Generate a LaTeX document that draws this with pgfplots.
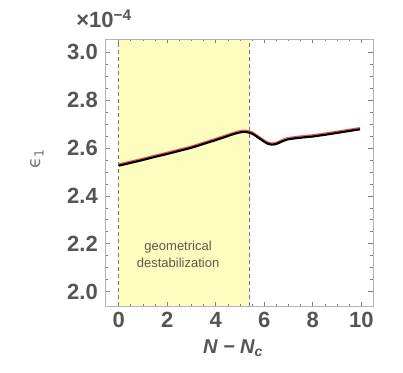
\documentclass[border=0pt]{standalone}
\usepackage{pgfplots}
\pgfplotsset{compat=1.18}
\usepackage{fontspec}
\setmainfont{Liberation Sans}
\newfontfamily\dejavu{DejaVu Sans}

\definecolor{lblgray}{RGB}{85,85,85}
\definecolor{framegray}{RGB}{180,180,180}
\definecolor{shade}{RGB}{255,252,192}
\definecolor{dashgray}{RGB}{120,120,120}
\definecolor{curvered}{RGB}{240,90,80}

\pgfplotstableread{
x y
0.0 2.526
0.5 2.538
1.0 2.550
1.5 2.563
2.0 2.575
2.5 2.588
3.0 2.601
3.5 2.617
4.0 2.633
4.5 2.650
4.8 2.660
5.1 2.667
5.3 2.666
5.5 2.660
5.7 2.647
5.9 2.633
6.1 2.620
6.3 2.614
6.5 2.617
6.7 2.626
6.9 2.634
7.1 2.638
7.5 2.643
8.0 2.648
8.5 2.655
9.0 2.663
9.5 2.671
9.95 2.678
}\blackdata

\pgfplotstableread{
x y
0.0 2.533
0.5 2.545
1.0 2.557
1.5 2.570
2.0 2.582
2.5 2.595
3.0 2.608
3.5 2.624
4.0 2.640
4.5 2.657
4.8 2.667
5.1 2.674
5.3 2.673
5.5 2.667
5.7 2.654
5.9 2.640
6.1 2.627
6.3 2.621
6.5 2.624
6.7 2.633
6.9 2.641
7.1 2.645
7.5 2.650
8.0 2.655
8.5 2.662
9.0 2.670
9.5 2.678
9.95 2.685
}\reddata

\begin{document}
\begin{tikzpicture}
\begin{axis}[
    scale only axis,
    width=267.4pt, height=267pt,
    xmin=-0.55, xmax=10.47,
    ymin=1.94, ymax=3.055,
    axis on top,
    axis line style={framegray},
    xtick={0,2,4,6,8,10},
    ytick={2.0,2.2,2.4,2.6,2.8,3.0},
    yticklabels={2.0,2.2,2.4,2.6,2.8,3.0},
    xticklabels={0,2,4,6,8,10},
    minor x tick num=3,
    minor y tick num=3,
    tick style={color=framegray!70!black, line width=0.6pt},
    major tick length=4.5pt,
    minor tick length=2.5pt,
    tick align=inside,
    ticklabel style={font=\fontsize{22}{26}\selectfont\bfseries, text=lblgray},
    xticklabel style={yshift=-3pt},
    yticklabel style={xshift=-4pt},
]
\addplot[fill=shade, draw=none] coordinates {(0,1.94) (5.4,1.94) (5.4,3.055) (0,3.055)} -- cycle;
\addplot[dashgray, line width=1pt, dash pattern=on 4pt off 3pt] coordinates {(0,1.94) (0,3.055)};
\addplot[dashgray, line width=1pt, dash pattern=on 4pt off 3pt] coordinates {(5.4,1.94) (5.4,3.055)};
\addplot[curvered, line width=1.2pt, smooth] table {\reddata};
\addplot[black, line width=2.2pt, smooth] table {\blackdata};
\node[font=\fontsize{13}{16.5}\selectfont, text=lblgray!85!olive, align=center] at (axis cs:2.45,2.155) {geometrical\\destabilization};
\end{axis}
\node[font=\fontsize{18}{20}\selectfont\dejavu, text=lblgray!80, rotate=90] at (-68.3pt,147.3pt) {ϵ\textsubscript{1}};
\node[font=\fontsize{22}{26}\selectfont\bfseries, text=lblgray] at (-1.3pt,287pt) {×10\textsuperscript{−4}};
\node[font=\fontsize{20}{24}\selectfont\bfseries\itshape, text=lblgray] at (127.7pt,-42pt) {N − N\textsubscript{c}};
\pgfresetboundingbox
\path (-105.3pt,-66pt) rectangle (297.7pt,306pt);
\end{tikzpicture}
\end{document}
